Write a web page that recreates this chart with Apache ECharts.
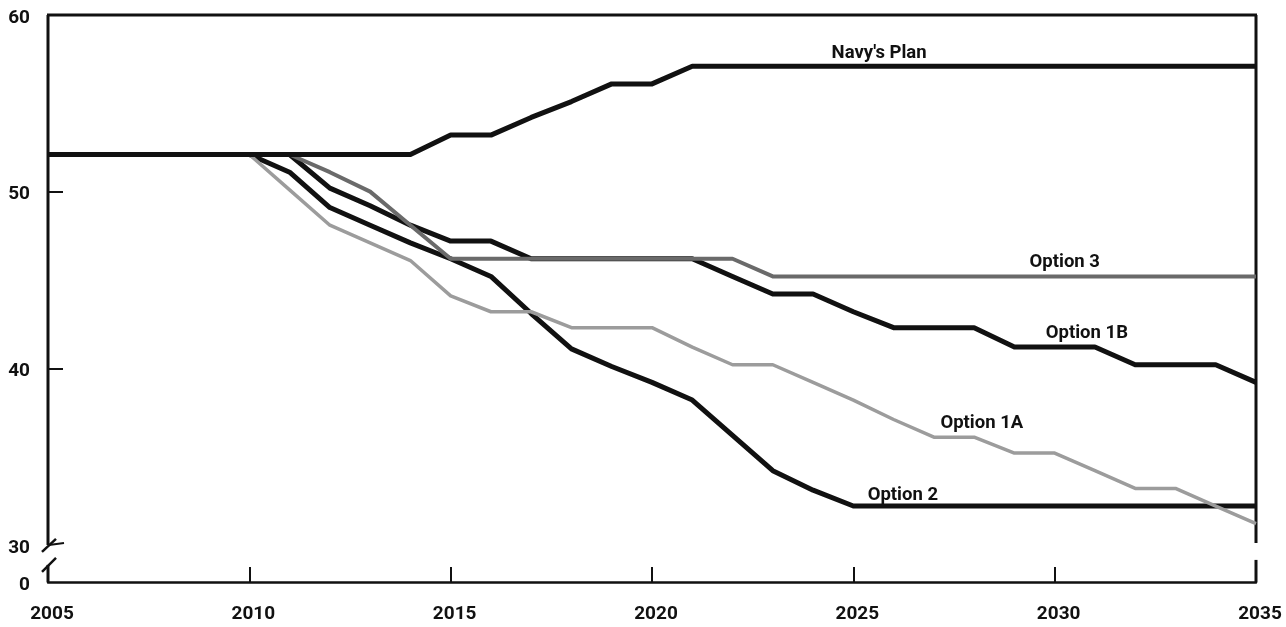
<!DOCTYPE html>
<html><head><meta charset="utf-8">
<script src="https://cdn.jsdelivr.net/npm/echarts@6/dist/echarts.min.js"></script>
<style>html,body{margin:0;padding:0;background:#fff}#c{width:1286px;height:627px}</style>
</head><body><div id="c"></div>
<script>
// ---- data ----
const years = [2005,2006,2007,2008,2009,2010,2011,2012,2013,2014,2015,2016,2017,2018,2019,2020,2021,2022,2023,2024,2025,2026,2027,2028,2029,2030,2031,2032,2033,2034,2035];
const navyPlan = [52.1,52.1,52.1,52.1,52.1,52.1,52.1,52.1,52.1,52.1,53.2,53.2,54.2,55.1,56.1,56.1,57.1,57.1,57.1,57.1,57.1,57.1,57.1,57.1,57.1,57.1,57.1,57.1,57.1,57.1,57.1];
const option3  = [52.1,52.1,52.1,52.1,52.1,52.1,52.1,51.1,50.0,48.1,46.2,46.2,46.2,46.2,46.2,46.2,46.2,46.2,45.2,45.2,45.2,45.2,45.2,45.2,45.2,45.2,45.2,45.2,45.2,45.2,45.2];
const option1B = [52.1,52.1,52.1,52.1,52.1,52.1,52.1,50.2,49.2,48.1,47.2,47.2,46.2,46.2,46.2,46.2,46.2,45.2,44.2,44.2,43.2,42.3,42.3,42.3,41.2,41.2,41.2,40.2,40.2,40.2,39.2];
const option1A = [52.1,52.1,52.1,52.1,52.1,52.1,50.1,48.1,47.1,46.1,44.1,43.2,43.2,42.3,42.3,42.3,41.2,40.2,40.2,39.2,38.2,37.1,36.1,36.1,35.2,35.2,34.2,33.2,33.2,32.2,31.2];
const option2  = [52.1,52.1,52.1,52.1,52.1,52.1,51.1,49.1,48.1,47.1,46.2,45.2,43.1,41.1,40.1,39.2,38.2,36.2,34.2,33.1,32.2,32.2,32.2,32.2,32.2,32.2,32.2,32.2,32.2,32.2,32.2];
const xTickLabels = ['2005','2010','2015','2020','2025','2030','2035'];
const yTickValues = [30,40,50,60];
const yZeroLabel = '0';
const seriesNames = ["Navy's Plan","Option 3","Option 1B","Option 1A","Option 2"];

// ---- layout / style ----
const Y_MIN = 27.9, Y_MAX = 60;
const FONT = "Roboto,'Liberation Sans',sans-serif";
const BLACK = '#111111';
const labelAnchors = { // label centre positions in data space
  "Navy's Plan": [2025.64, 57.85],
  "Option 3": [2030.25, 45.98],
  "Option 1B": [2030.8, 41.95],
  "Option 1A": [2028.19, 36.9],
  "Option 2": [2026.23, 32.78]
};
const seriesDefs = [
  {name: "Option 1B", values: option1B, color: BLACK, width: 5},
  {name: "Option 2", values: option2, color: BLACK, width: 5},
  {name: "Option 3", values: option3, color: '#6a6a6a', width: 4},
  {name: "Option 1A", values: option1A, color: '#9c9c9c', width: 3.5},
  {name: "Navy's Plan", values: navyPlan, color: BLACK, width: 5}
];

const chart = echarts.init(document.getElementById('c'), null, {renderer: 'canvas'});
const option = {
  animation: false,
  backgroundColor: '#fff',
  grid: {left: 48, right: 30, top: 15, bottom: 45, containLabel: false},
  xAxis: {
    type: 'value', min: 2005, max: 2035, interval: 5,
    axisLine: {show: true, onZero: false, lineStyle: {color: BLACK, width: 2.5}},
    axisTick: {show: true, inside: true, length: 15, lineStyle: {color: BLACK, width: 2}},
    axisLabel: {
      margin: 23, color: BLACK, fontFamily: FONT, fontWeight: 'bold', fontSize: 19,
      padding: [0, 0, 0, 8],
      formatter: v => xTickLabels[xTickLabels.indexOf(String(v))] || ''
    },
    splitLine: {show: false}
  },
  yAxis: {
    type: 'value', min: Y_MIN, max: Y_MAX,
    axisLine: {show: false},
    axisTick: {show: true, inside: true, length: 15, customValues: [40, 50], lineStyle: {color: BLACK, width: 2}},
    axisLabel: {
      margin: 18, color: BLACK, fontFamily: FONT, fontWeight: 'bold', fontSize: 19,
      customValues: [Y_MIN].concat(yTickValues),
      formatter: v => '{a|' + (Math.abs(v - Y_MIN) < 1e-6 ? yZeroLabel : String(v)) + '}',
      rich: {a: {fontFamily: FONT, fontWeight: 'bold', fontSize: 19, color: BLACK, padding: [6, 0, 0, 0]}}
    },
    splitLine: {show: false}
  },
  series: seriesDefs.map(s => ({
    name: s.name, type: 'line', symbol: 'none', silent: true,
    data: years.map((y, i) => [y, s.values[i]]),
    lineStyle: {color: s.color, width: s.width, join: 'round', cap: 'butt'}
  }))
};
chart.setOption(option);

// ---- frame, axis break marks and series labels ----
const P = (x, y) => chart.convertToPixel({gridIndex: 0}, [x, y]);
const tl = P(2005, Y_MAX), br = P(2035, Y_MIN), p30 = P(2005, 30);
const L = tl[0], R = br[0], T = tl[1], B = br[1], Y30 = p30[1];
const ln = (x1, y1, x2, y2, w) => ({type: 'line', silent: true, shape: {x1, y1, x2, y2}, style: {stroke: BLACK, lineWidth: w || 3}});
const g = [
  ln(L - 1, T, R + 1, T, 3),                  // top border
  ln(L, T, L, Y30, 3),                        // left axis upper part
  ln(L, Y30 + 20, L, B, 3),                   // left axis lower part
  ln(L - 6, Y30 + 7, L + 8, Y30 - 6, 2.5),    // break slash upper
  ln(L + 1, Y30, L + 16, Y30 - 2, 2),         // short tick at 30
  ln(L - 6, Y30 + 27, L + 8, Y30 + 13, 2.5),  // break slash lower
  ln(R, T, R, Y30 - 2, 3),                    // right border upper part
  ln(R, Y30 + 15, R, B, 3)                    // right border lower part
];
seriesNames.forEach(n => {
  const a = labelAnchors[n];
  const p = P(a[0], a[1]);
  g.push({type: 'text', silent: true, x: p[0], y: p[1],
    style: {text: n, fill: BLACK, font: 'bold 18.5px ' + FONT, textAlign: 'center', textVerticalAlign: 'middle'}});
});
chart.setOption({graphic: g});
</script>
</body></html>
